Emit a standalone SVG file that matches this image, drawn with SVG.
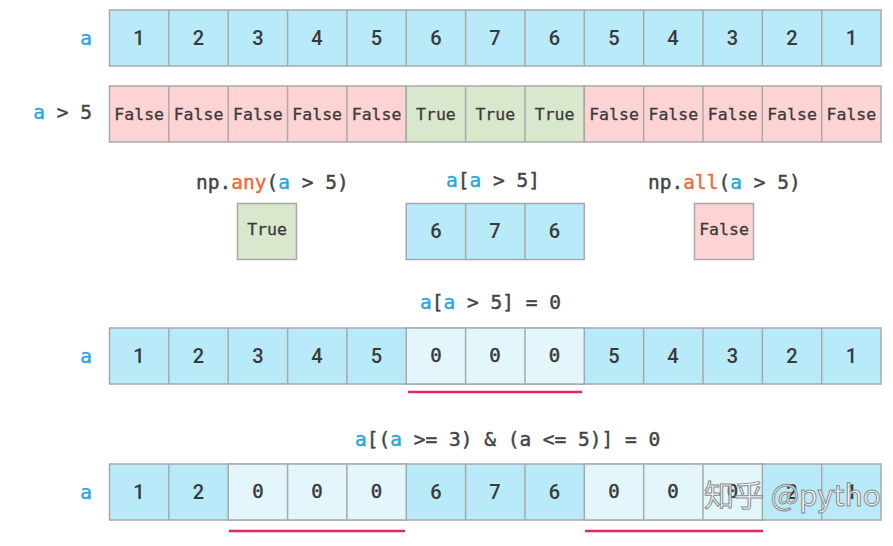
<svg xmlns="http://www.w3.org/2000/svg" width="893" height="546" viewBox="0 0 893 546">
<style>
.c{stroke:#a9a9a9;stroke-width:1.5}
.b{fill:#b9eaf9}
.l{fill:#e2f6fc}
.p{fill:#fed3d3}
.g{fill:#d9e8cd}
.n{font-family:Roboto,"Liberation Sans",sans-serif;font-weight:500;font-size:20px;fill:#3a3a3a;text-anchor:middle}
.m{font-family:"DejaVu Sans Mono","Liberation Mono",monospace;font-size:16.5px;fill:#3a3a3a;stroke:#3a3a3a;stroke-width:0.3;text-anchor:middle}
.z{font-family:"DejaVu Sans Mono","Liberation Mono",monospace;font-size:19px;fill:#3a3a3a;stroke:#3a3a3a;stroke-width:0.5;text-anchor:middle}
.code{font-family:"DejaVu Sans Mono","Liberation Mono",monospace;font-size:19.5px;fill:#444;stroke:#444;stroke-width:0.45}
.code tspan.v{fill:#2aa6dc;stroke:#2aa6dc}
.code tspan.o{fill:#ef6b37;stroke:#ef6b37}
.lab{font-family:"DejaVu Sans Mono","Liberation Mono",monospace;font-size:19.5px;fill:#444;stroke:#444;stroke-width:0.45;text-anchor:end}
.lab tspan{fill:#2aa6dc;stroke:#2aa6dc}
.u{stroke:#e2246b;stroke-width:2.5}
</style>
<rect width="893" height="546" fill="#fff"/>

<g id="labels">
<text class="lab" x="92" y="45"><tspan>a</tspan></text>
<text class="lab" x="92" y="119"><tspan>a</tspan> &gt; 5</text>
<text class="lab" x="92" y="363"><tspan>a</tspan></text>
<text class="lab" x="92" y="499"><tspan>a</tspan></text>
</g>

<g id="row1">
<rect class="c b" x="109.5" y="10" width="771.5" height="56"/>
<g class="c"><line x1="168.85" y1="10" x2="168.85" y2="66"/><line x1="228.2" y1="10" x2="228.2" y2="66"/><line x1="287.55" y1="10" x2="287.55" y2="66"/><line x1="346.9" y1="10" x2="346.9" y2="66"/><line x1="406.25" y1="10" x2="406.25" y2="66"/><line x1="465.6" y1="10" x2="465.6" y2="66"/><line x1="524.95" y1="10" x2="524.95" y2="66"/><line x1="584.3" y1="10" x2="584.3" y2="66"/><line x1="643.65" y1="10" x2="643.65" y2="66"/><line x1="703" y1="10" x2="703" y2="66"/><line x1="762.35" y1="10" x2="762.35" y2="66"/><line x1="821.7" y1="10" x2="821.7" y2="66"/></g>
<g class="n"><text x="139" y="45">1</text><text x="198.5" y="45">2</text><text x="258" y="45">3</text><text x="317" y="45">4</text><text x="376.5" y="45">5</text><text x="436" y="45">6</text><text x="495" y="45">7</text><text x="554.5" y="45">6</text><text x="614" y="45">5</text><text x="673" y="45">4</text><text x="732.5" y="45">3</text><text x="792" y="45">2</text><text x="851.5" y="45">1</text></g>
</g>

<g id="row2">
<rect class="c p" x="109.5" y="86" width="296.75" height="56"/>
<rect class="c g" x="406.25" y="86" width="178.05" height="56"/>
<rect class="c p" x="584.3" y="86" width="296.7" height="56"/>
<g class="c"><line x1="168.85" y1="86" x2="168.85" y2="142"/><line x1="228.2" y1="86" x2="228.2" y2="142"/><line x1="287.55" y1="86" x2="287.55" y2="142"/><line x1="346.9" y1="86" x2="346.9" y2="142"/><line x1="465.6" y1="86" x2="465.6" y2="142"/><line x1="524.95" y1="86" x2="524.95" y2="142"/><line x1="643.65" y1="86" x2="643.65" y2="142"/><line x1="703" y1="86" x2="703" y2="142"/><line x1="762.35" y1="86" x2="762.35" y2="142"/><line x1="821.7" y1="86" x2="821.7" y2="142"/></g>
<g class="m"><text x="139.2" y="120">False</text><text x="198.5" y="120">False</text><text x="257.9" y="120">False</text><text x="317.2" y="120">False</text><text x="376.6" y="120">False</text><text x="435.9" y="120">True</text><text x="495.3" y="120">True</text><text x="554.6" y="120">True</text><text x="614" y="120">False</text><text x="673.3" y="120">False</text><text x="732.7" y="120">False</text><text x="792" y="120">False</text><text x="851.4" y="120">False</text></g>
</g>

<g id="any">
<text class="code" x="196" y="189">np.<tspan class="o">any</tspan>(<tspan class="v">a</tspan> &gt; 5)</text>
<rect class="c g" x="237.5" y="203.5" width="59" height="56"/>
<text class="m" x="267" y="235">True</text>
</g>

<g id="mask">
<text class="code" x="446" y="187"><tspan class="v">a</tspan>[<tspan class="v">a</tspan> &gt; 5]</text>
<rect class="c b" x="406.25" y="203.5" width="178.05" height="56"/>
<line class="c" x1="465.6" y1="203.5" x2="465.6" y2="259.5"/>
<line class="c" x1="524.95" y1="203.5" x2="524.95" y2="259.5"/>
<g class="n"><text x="436" y="238">6</text><text x="495" y="238">7</text><text x="554.5" y="238">6</text></g>
</g>

<g id="all">
<text class="code" x="648" y="189">np.<tspan class="o">all</tspan>(<tspan class="v">a</tspan> &gt; 5)</text>
<rect class="c p" x="694.5" y="203.5" width="59" height="56"/>
<text class="m" x="724" y="235">False</text>
</g>

<g id="row3">
<text class="code" x="420" y="309"><tspan class="v">a</tspan>[<tspan class="v">a</tspan> &gt; 5] = 0</text>
<rect class="c b" x="109.5" y="328" width="771.5" height="56"/>
<rect class="c l" x="406.25" y="328" width="178.05" height="56"/>
<g class="c"><line x1="168.85" y1="328" x2="168.85" y2="384"/><line x1="228.2" y1="328" x2="228.2" y2="384"/><line x1="287.55" y1="328" x2="287.55" y2="384"/><line x1="346.9" y1="328" x2="346.9" y2="384"/><line x1="465.6" y1="328" x2="465.6" y2="384"/><line x1="524.95" y1="328" x2="524.95" y2="384"/><line x1="643.65" y1="328" x2="643.65" y2="384"/><line x1="703" y1="328" x2="703" y2="384"/><line x1="762.35" y1="328" x2="762.35" y2="384"/><line x1="821.7" y1="328" x2="821.7" y2="384"/></g>
<g class="n"><text x="139" y="363">1</text><text x="198.5" y="363">2</text><text x="258" y="363">3</text><text x="317" y="363">4</text><text x="376.5" y="363">5</text><text x="614" y="363">5</text><text x="673" y="363">4</text><text x="732.5" y="363">3</text><text x="792" y="363">2</text><text x="851.5" y="363">1</text></g>
<g class="z"><text x="436" y="362">0</text><text x="495" y="362">0</text><text x="554.5" y="362">0</text></g>
<line class="u" x1="408" y1="392" x2="582" y2="392"/>
</g>

<g id="row4">
<text class="code" x="355" y="446"><tspan class="v">a</tspan>[(<tspan class="v">a</tspan> &gt;= 3) &amp; (a &lt;= 5)] = 0</text>
<rect class="c b" x="109.5" y="464" width="771.5" height="56"/>
<rect class="c l" x="228.2" y="464" width="178.05" height="56"/>
<rect class="c l" x="584.3" y="464" width="178.05" height="56"/>
<g class="c"><line x1="168.85" y1="464" x2="168.85" y2="520"/><line x1="287.55" y1="464" x2="287.55" y2="520"/><line x1="346.9" y1="464" x2="346.9" y2="520"/><line x1="465.6" y1="464" x2="465.6" y2="520"/><line x1="524.95" y1="464" x2="524.95" y2="520"/><line x1="643.65" y1="464" x2="643.65" y2="520"/><line x1="703" y1="464" x2="703" y2="520"/><line x1="821.7" y1="464" x2="821.7" y2="520"/></g>
<g class="n"><text x="139" y="499">1</text><text x="198.5" y="499">2</text><text x="436" y="499">6</text><text x="495" y="499">7</text><text x="554.5" y="499">6</text><text x="792" y="499">2</text><text x="851.5" y="499">1</text></g>
<g class="z"><text x="258" y="498">0</text><text x="317" y="498">0</text><text x="376.5" y="498">0</text><text x="614" y="498">0</text><text x="673" y="498">0</text><text x="732.5" y="498">0</text></g>
<line class="u" x1="229" y1="531" x2="405" y2="531"/>
<line class="u" x1="585" y1="531" x2="763" y2="531"/>
</g>

<g id="watermark">
<text x="704" y="506" font-family="'Noto Sans CJK SC','Noto Sans',sans-serif" font-size="30" fill="#fff" fill-opacity="0.85" stroke="#8a8a8a" stroke-width="1">知乎 @pytho</text>
</g>
</svg>
